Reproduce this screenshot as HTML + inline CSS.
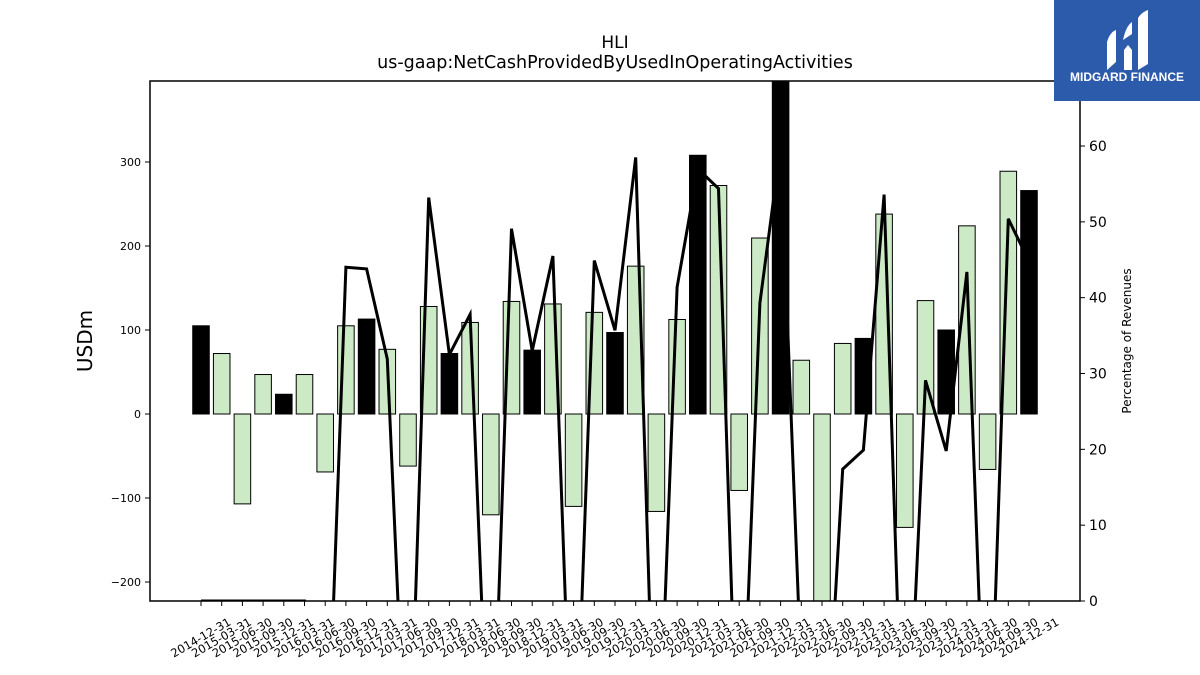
<!DOCTYPE html>
<html><head><meta charset="utf-8"><style>
html,body{margin:0;background:#fff;width:1200px;height:675px;overflow:hidden;}
svg{display:block;font-family:"DejaVu Sans","Liberation Sans",sans-serif;}
</style></head><body>
<svg id="chart" width="1200" height="675" viewBox="0 0 1200 675">
<text x="615" y="48" text-anchor="middle" font-size="17">HLI</text>
<text x="615" y="68" text-anchor="middle" font-size="17.5">us-gaap:NetCashProvidedByUsedInOperatingActivities</text>
<g id="plot"></g>
<text transform="translate(92,341) rotate(-90)" text-anchor="middle" font-size="20">USDm</text>
<text transform="translate(1131,341) rotate(-90)" text-anchor="middle" font-size="12">Percentage of Revenues</text>
<g>
<rect x="1054" y="0" width="146" height="101" fill="#2d5bab"/>
<path d="M1107 70 L1107 42 Q1110 32 1116 30 L1116 62 Z M1124 70 L1124 50 L1128 45 L1132 50 L1132 70 Z M1138 70 L1138 18 Q1142 12 1148 10 L1148 64 Z M1123 40 Q1126 26 1132 22 L1132 34 Z" fill="#fff"/>
<text x="1127" y="81" text-anchor="middle" font-size="12" font-weight="bold" fill="#fff" font-family="Liberation Sans, sans-serif">MIDGARD FINANCE</text>
</g>
</svg>
<script>
const categories = ["2014-12-31","2015-03-31","2015-06-30","2015-09-30","2015-12-31","2016-03-31","2016-06-30","2016-09-30","2016-12-31","2017-03-31","2017-06-30","2017-09-30","2017-12-31","2018-03-31","2018-06-30","2018-09-30","2018-12-31","2019-03-31","2019-06-30","2019-09-30","2019-12-31","2020-03-31","2020-06-30","2020-09-30","2020-12-31","2021-03-31","2021-06-30","2021-09-30","2021-12-31","2022-03-31","2022-06-30","2022-09-30","2022-12-31","2023-03-31","2023-06-30","2023-09-30","2023-12-31","2024-03-31","2024-06-30","2024-09-30","2024-12-31"];
const cashFlow = [105,72,-107,47,23.5,47,-69,105,113,77,-62,128,72,109,-120,134,76,131,-110,121,97,176,-116,112.5,308,272,-91,209.5,420,64,-240,84,90,238,-135,135,100,224,-66,289,266];
const pctRevenue = [0,0,0,0,0,0,-30,44,43.8,31.9,-30,53.2,32.5,37.8,-30,49.1,33,45.5,-30,44.9,35.7,58.5,-30,41.4,57,54.4,-30,39.3,60,-10,-30,17.4,19.9,53.6,-30,29.1,19.8,43.4,-30,50.4,44.8];
const leftTicks = [-200,-100,0,100,200,300];
const rightTicks = [0,10,20,30,40,50,60];

const NS="http://www.w3.org/2000/svg";
const L=150,R=1080,T=81,B=601;
const y=v=>414-v*0.84;
const y2=v=>601-v*7.583;
const step=(1029-201)/(categories.length-1);
const x=i=>201+i*step;
const plot=document.getElementById('plot');
function mk(tag,attrs,parent){const e=document.createElementNS(NS,tag);for(const k in attrs)e.setAttribute(k,attrs[k]);(parent||plot).appendChild(e);return e;}
const defs=mk('defs',{});
const cp=mk('clipPath',{id:'clip'},defs);
mk('rect',{x:L,y:T,width:R-L,height:B-T},cp);
const bars=mk('g',{'clip-path':'url(#clip)'});
const bw=step*0.8;
cashFlow.forEach((v,i)=>{
  const black=categories[i].endsWith('12-31');
  const r=mk('rect',{x:x(i)-bw/2,y:Math.min(y(v),y(0)),width:bw,height:Math.abs(y(v)-y(0)),fill:black?'#000':'#cdeac6',stroke:'#000','stroke-width':1},bars);
  
  
});
const pts=pctRevenue.map((v,i)=>x(i).toFixed(1)+','+y2(v).toFixed(1)).join(' ');
const line=mk('polyline',{points:pts,fill:'none',stroke:'#000','stroke-width':3,'stroke-linejoin':'miter'},bars);


const frame=mk('rect',{x:L,y:T,width:R-L,height:B-T,fill:'none',stroke:'#000','stroke-width':1.5});


leftTicks.forEach(t=>{
  mk('line',{x1:L-5,x2:L,y1:y(t),y2:y(t),stroke:'#000'});
  const tx=mk('text',{x:L-9,y:y(t)+4,'text-anchor':'end','font-size':11});
  tx.textContent=t<0?'\u2212'+(-t):t;
  
  
});
rightTicks.forEach(t=>{
  mk('line',{x1:R,x2:R+5,y1:y2(t),y2:y2(t),stroke:'#000'});
  const tx=mk('text',{x:R+9,y:y2(t)+5,'font-size':14});
  tx.textContent=t;
  
  
});
categories.forEach((c,i)=>{
  mk('line',{x1:x(i),x2:x(i),y1:B,y2:B+5,stroke:'#000'});
  const tx=mk('text',{transform:`translate(${x(i)},${B+37}) rotate(-30)`,'text-anchor':'middle','dominant-baseline':'middle','font-size':11.5});
  tx.textContent=c;
  
  
});
</script>
</body></html>
